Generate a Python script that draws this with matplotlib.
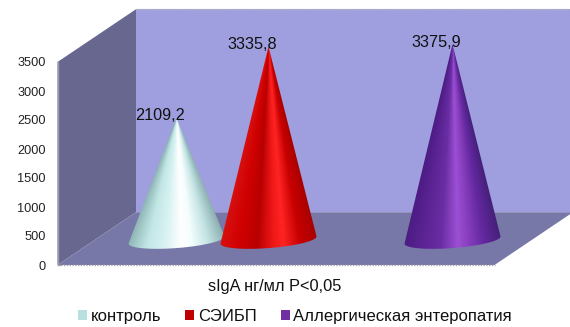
import matplotlib; matplotlib.use('Agg')

import matplotlib.pyplot as plt
import numpy as np
from matplotlib.colors import LinearSegmentedColormap
from matplotlib.patches import Patch, Polygon

plt.rcParams['font.family'] = ['Liberation Sans', 'DejaVu Sans']

categories = ["контроль", "СЭИБП", "Аллергическая энтеропатия"]
values = [2109.2, 3335.8, 3375.9]
value_labels = ["2109,2", "3335,8", "3375,9"]
yticks = [0, 500, 1000, 1500, 2000, 2500, 3000, 3500]
xlabel = "sIgA нг/мл P<0,05"

legend_colors = ["#b9e0e0", "#c00000", "#7030a0"]
shades = [
    ["#8db4b4", "#c2e6e6", "#d8f2f2", "#ffffff", "#f4fdfd", "#c4e4e4", "#8fb2b2"],
    ["#d81010", "#d00000", "#b80000", "#f01818", "#ff2424", "#c80000", "#a80000"],
    ["#4c1c84", "#5c2494", "#6a2ea4", "#9c50d4", "#8a40c0", "#6428a0", "#45207a"],
]
shade_stops = [0, 0.2, 0.38, 0.55, 0.65, 0.82, 1]
centers = [176.5, 268.5, 452.5]

# axes fill the figure: x runs in pixels, y in data units
SCALE = 0.058
DEPTH_X = 78.5
DEPTH_Y = 910
FRONT_X = 57.5
RIGHT_X = 494.5
BASE = 430
BASE_A = 48
BASE_B = 138
BASE_TILT = 62

fig = plt.figure(figsize=(5.7, 3.27), dpi=100)
ax = fig.add_axes([0, 0, 1, 1])
ymin, ymax = -62 / SCALE, 265 / SCALE

top = yticks[-1]
wall = [(FRONT_X, 0), (FRONT_X + DEPTH_X, DEPTH_Y), (FRONT_X + DEPTH_X, top + DEPTH_Y), (FRONT_X, top)]
back = [(FRONT_X + DEPTH_X, DEPTH_Y), (570, DEPTH_Y), (570, top + DEPTH_Y), (FRONT_X + DEPTH_X, top + DEPTH_Y)]
floor = [(FRONT_X, 0), (RIGHT_X, 0), (RIGHT_X + DEPTH_X, DEPTH_Y), (FRONT_X + DEPTH_X, DEPTH_Y)]
ax.add_patch(Polygon(back, fc="#9f9fdf", ec="none", zorder=1))
ax.add_patch(Polygon(wall, fc="#67678f", ec="none", zorder=2))
ax.add_patch(Polygon(floor, fc="#7878a8", ec="none", zorder=2))

# thin dotted grey edges of the box
ax.plot([FRONT_X, RIGHT_X], [0, 0], color="#a8a8a8", lw=1, ls=(0, (1, 1)), zorder=3)
ax.plot([FRONT_X + DEPTH_X, 570], [top + DEPTH_Y] * 2, color="#b8b8b8", lw=1, ls=(0, (1, 1)), zorder=3)
ax.plot([FRONT_X, FRONT_X], [0, top], color="#9a9aa8", lw=1, zorder=3)

for i in range(len(values)):
    cx = centers[i]
    apex = BASE + values[i]
    t = np.linspace(0, np.pi, 80)
    arc_x = cx + BASE_A * np.cos(t)
    arc_y = BASE - BASE_B * np.sin(t) + BASE_TILT * np.cos(t)
    outline = np.column_stack([np.r_[cx, arc_x], np.r_[apex, arc_y]])

    # shading fans out from the tip of the cone
    gx = np.linspace(cx - BASE_A - 2, cx + BASE_A + 2, 300)
    gy = np.linspace(BASE - BASE_B - 80, apex, 500)
    xx, yy = np.meshgrid(gx, gy)
    half = np.maximum(BASE_A * (apex - yy) / (apex - BASE), 0.01)
    f = np.clip((xx - cx) / half, -1, 1) * 0.5 + 0.5
    cmap = LinearSegmentedColormap.from_list("cone", list(zip(shade_stops, shades[i])))
    im = ax.imshow(f, cmap=cmap, vmin=0, vmax=1, origin="lower", aspect="auto",
                   extent=[gx[0], gx[-1], gy[0], gy[-1]], zorder=4 + i, interpolation="bilinear")
    im.set_clip_path(Polygon(outline, transform=ax.transData))

    ax.annotate(value_labels[i], xy=(cx, apex), xytext=(-12, 1.5), textcoords="offset points",
                ha="center", va="center", fontsize=11.7, color="#111111", zorder=10)

ax.set_xlim(0, 570)
ax.set_ylim(ymin, ymax)

# the value axis sits on the front edge of the side wall
ax.spines['left'].set_position(('data', FRONT_X))
ax.set_yticks(yticks)
ax.tick_params(axis="y", direction="in", pad=8.5, length=2, width=0.6, color="#8a8a9a", labelsize=9.2,
               labelcolor="#222222")
ax.set_xticks([])
for s in ax.spines.values():
    s.set_visible(False)

ax.text(274.5, -21 / SCALE, xlabel, ha="center", va="center", fontsize=11.8, color="#111111")

handles = [Patch(fc=c, ec="none") for c in legend_colors]
ax.legend(handles, categories, loc="center", bbox_to_anchor=(295 / 570, 10.5 / 327), ncol=3, frameon=False,
          fontsize=12, handlelength=0.55, handleheight=0.55, handletextpad=0.2, columnspacing=1.45,
          borderpad=0, labelcolor="#111111")

plt.savefig('out.png', dpi=100)
